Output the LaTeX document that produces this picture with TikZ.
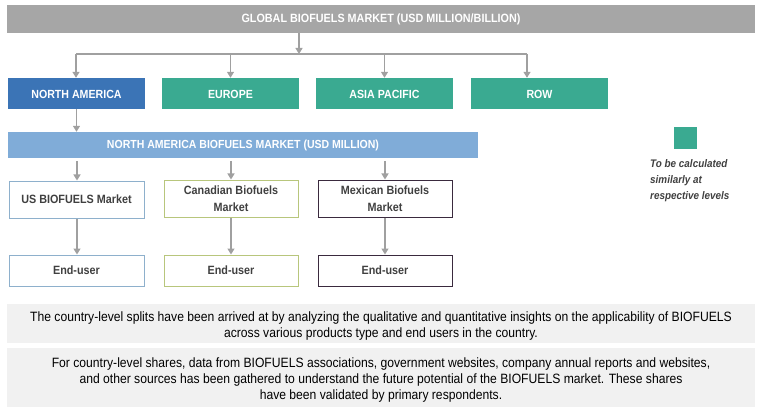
\documentclass[tikz,border=0pt]{standalone}
\usepackage{fontspec}
\setmainfont{Liberation Sans}[FakeStretch=0.9]
\usetikzlibrary{arrows.meta}
\definecolor{barGray}{HTML}{A6A6A6}
\definecolor{naBlue}{HTML}{3B74B6}
\definecolor{teal}{HTML}{3AAA91}
\definecolor{lightBlue}{HTML}{80ACD8}
\definecolor{usBorder}{HTML}{8EB0CC}
\definecolor{caBorder}{HTML}{B8C67C}
\definecolor{mxBorder}{HTML}{3A2A3E}
\definecolor{txtGray}{HTML}{404040}
\definecolor{panel}{HTML}{F1F1F1}
\definecolor{arrowGray}{HTML}{A0A0A0}
\tikzset{
  conn/.style={draw=arrowGray, line width=1.3pt, -{Triangle[length=6pt,width=7pt]}},
  plain/.style={draw=arrowGray, line width=1.3pt},
  filled/.style={minimum height=31pt, text=white, font=\bfseries\fontsize{11.8}{14}\selectfont, inner sep=0pt, text height=11pt, text depth=0pt},
  outl/.style={line width=1pt, fill=white, text=txtGray, font=\bfseries\fontsize{12}{17}\selectfont, align=center, inner sep=0pt},
  paneltext/.style={text=black, font=\fontsize{13.5}{16}\selectfont, align=center, inner sep=0pt}
}
\begin{document}
\begin{tikzpicture}[x=1pt,y=-1pt]
\useasboundingbox (0,0) rectangle (762,414);
% top bar
\node[fill=barGray, minimum width=748pt, minimum height=28pt, text=white, font=\bfseries\fontsize{12}{14}\selectfont, inner sep=0pt] (global) at (381,19) {GLOBAL BIOFUELS MARKET (USD MILLION/BILLION)};
\coordinate (split) at (299,54);
\coordinate (lineL) at (76,54);
\coordinate (lineR) at (527,54);
% region boxes
\node[filled, fill=naBlue, minimum width=137pt] (na) at (76.5,93.5) {NORTH AMERICA};
\node[filled, fill=teal, minimum width=137pt] (eu) at (230.5,93.5) {EUROPE};
\node[filled, fill=teal, minimum width=137pt] (ap) at (384.5,93.5) {ASIA PACIFIC};
\node[filled, fill=teal, minimum width=137pt] (row) at (539.5,93.5) {ROW};
\draw[conn] (global.south -| split) -- (split);
\draw[plain] (lineL) -- (lineR);
\draw[conn] (lineL) -- (lineL |- na.north);
\draw[conn] (eu.north |- split) -- (eu.north);
\draw[conn] (ap.north |- split) -- (ap.north);
\draw[conn] (lineR) -- (lineR |- row.north);
% NA bar
\node[fill=lightBlue, minimum width=470pt, minimum height=26pt, text=white, font=\bfseries\fontsize{11.7}{14}\selectfont, inner sep=0pt] (nabar) at (243,145) {NORTH AMERICA BIOFUELS MARKET (USD MILLION)};
\draw[conn] (na.south) -- (na.south |- nabar.north);
% country boxes
\node[outl, draw=usBorder, minimum width=135pt, minimum height=37pt] (us) at (76.5,199.5) {US BIOFUELS Market};
\node[outl, draw=caBorder, minimum width=134pt, minimum height=37pt] (ca) at (231,198.5) {Canadian Biofuels\\Market};
\node[outl, draw=mxBorder, minimum width=134pt, minimum height=37pt] (mx) at (385,198.5) {Mexican Biofuels\\Market};
\coordinate (usTop) at (77,161);
\coordinate (caTop) at (231,161);
\coordinate (mxTop) at (385,161);
\draw[conn] (usTop) -- (usTop |- us.north);
\draw[conn] (caTop) -- (caTop |- ca.north);
\draw[conn] (mxTop) -- (mxTop |- mx.north);
% end-user boxes
\node[outl, draw=usBorder, minimum width=135pt, minimum height=31pt] (eu1) at (76.5,270.5) {End-user};
\node[outl, draw=caBorder, minimum width=134pt, minimum height=31pt] (eu2) at (231,270.5) {End-user};
\node[outl, draw=mxBorder, minimum width=134pt, minimum height=31pt] (eu3) at (385,270.5) {End-user};
\draw[conn] (us.south -| usTop) -- (eu1.north -| usTop);
\draw[conn] (ca.south -| caTop) -- (eu2.north -| caTop);
\draw[conn] (mx.south -| mxTop) -- (eu3.north -| mxTop);
% legend
\node[fill=teal, minimum width=23pt, minimum height=22pt, inner sep=0pt] (legsq) at (685.5,138) {};
\node[anchor=north west, align=left, text=txtGray, font=\bfseries\itshape\fontsize{11}{16}\selectfont, inner sep=0pt] (legtxt) at (650,159) {To be calculated\\similarly at\\respective levels};
% bottom panels
\fill[panel] (7,304) rectangle (755,343);
\fill[panel] (7,348) rectangle (755,407);
\node[paneltext] (p1) at (381,326) {The country-level splits have been arrived at by analyzing the qualitative and quantitative insights on the applicability of BIOFUELS\\across various products type and end users in the country.};
\node[paneltext] (p2) at (381,380) {For country-level shares, data from BIOFUELS associations, government websites, company annual reports and websites,\\and other sources has been gathered to understand the future potential of the BIOFUELS market. These shares\\have been validated by primary respondents.};
\end{tikzpicture}
\end{document}
